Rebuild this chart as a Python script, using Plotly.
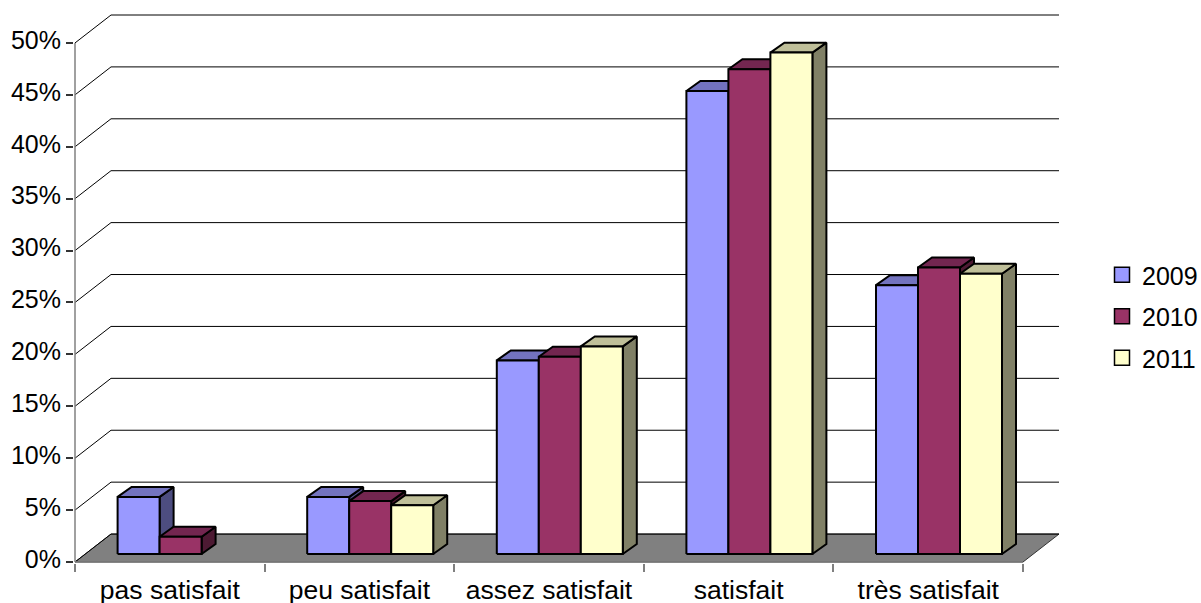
import plotly.graph_objects as go

categories = ["pas satisfait", "peu satisfait", "assez satisfait", "satisfait", "très satisfait"]
years = ["2009", "2010", "2011"]
values_2009 = [5.5, 5.5, 18.65, 44.6, 25.9]
values_2010 = [1.66, 5.1, 19.0, 46.7, 27.6]
values_2011 = [None, 4.7, 20.0, 48.3, 27.0]
y_ticks = [0, 5, 10, 15, 20, 25, 30, 35, 40, 45, 50]
y_labels = ["0%", "5%", "10%", "15%", "20%", "25%", "30%", "35%", "40%", "45%", "50%"]

series = [values_2009, values_2010, values_2011]
front = ["#9999FF", "#993366", "#FFFFCC"]
top = ["#7373BF", "#732650", "#BFBF99"]
side = ["#4D4D80", "#4D1A33", "#808066"]

# pixel scale of the plot: one category and one percent
PX_X = 189.6
PX_Y = 10.4
wall_dx, wall_dy = 36 / PX_X, 28 / PX_Y
bar_x0, bar_w = 42.6 / PX_X, 42 / PX_X
lift = 8 / PX_Y
bar_dx, bar_dy = 14 / PX_X, 10 / PX_Y
n = len(categories)

fig = go.Figure()


def poly(xs, ys, fill, line="#000000", width=2):
    fig.add_trace(go.Scatter(x=xs, y=ys, mode="lines", fill="toself", fillcolor=fill,
                             line=dict(color=line, width=width), showlegend=False,
                             hoverinfo="skip"))


# floor
poly([0, n, n + wall_dx, wall_dx, 0], [0, 0, wall_dy, wall_dy, 0], "#808080", "#333333", 1)

# walls: gridlines on back wall and side wall
gx, gy = [], []
for t in y_ticks:
    gx += [0, wall_dx, n + wall_dx, None]
    gy += [t, t + wall_dy, t + wall_dy, None]
fig.add_trace(go.Scatter(x=gx, y=gy, mode="lines", line=dict(color="#000000", width=1),
                         showlegend=False, hoverinfo="skip"))
fig.add_trace(go.Scatter(x=[0, 0], y=[0, y_ticks[-1]], mode="lines",
                         line=dict(color="#808080", width=1.5), showlegend=False, hoverinfo="skip"))
fig.add_trace(go.Scatter(x=[0, n], y=[0, 0], mode="lines",
                         line=dict(color="#808080", width=1.5), showlegend=False, hoverinfo="skip"))

# bars, painted left to right
for c in range(n):
    for s, vals in enumerate(series):
        v = vals[c]
        if v is None:
            continue
        x0 = c + bar_x0 + s * bar_w
        x1 = x0 + bar_w
        y0, y1 = lift, lift + v
        poly([x1, x1 + bar_dx, x1 + bar_dx, x1, x1],
             [y0, y0 + bar_dy, y1 + bar_dy, y1, y0], side[s])
        poly([x0, x0 + bar_dx, x1 + bar_dx, x1, x0],
             [y1, y1 + bar_dy, y1 + bar_dy, y1, y1], top[s])
        poly([x0, x1, x1, x0, x0], [y0, y0, y1, y1, y0], front[s])

# legend entries
for s, year in enumerate(years):
    fig.add_trace(go.Scatter(x=[None], y=[None], mode="markers", name=year, legendgroup=year,
                             marker=dict(symbol="square", size=15, color=front[s],
                                         line=dict(color="#000000", width=1.5))))

fig.update_layout(
    width=1201, height=603,
    margin=dict(l=74, r=141, t=14, b=40, autoexpand=False),
    paper_bgcolor="#FFFFFF", plot_bgcolor="#FFFFFF",
    font=dict(family="Liberation Sans, Arial, sans-serif", size=25, color="#000000"),
    showlegend=True,
    legend=dict(x=1102 / 1201, xref="container", xanchor="left", y=1 - 252 / 603, yref="container",
                yanchor="top", tracegroupgap=6, itemclick=False, itemdoubleclick=False,
                bgcolor="rgba(0,0,0,0)", font=dict(size=25)),
    xaxis=dict(range=[-1 / PX_X, n + wall_dx + 1 / PX_X], showgrid=False, zeroline=False,
               showline=False, tickmode="array", tickvals=[i + 0.5 for i in range(n)],
               ticktext=categories, ticks="", tickfont=dict(size=26.5), ticklabelstandoff=8,
               minor=dict(tickmode="array", tickvals=list(range(n + 1)), ticks="outside",
                          ticklen=8, tickcolor="#808080", tickwidth=1.5, showgrid=False)),
    yaxis=dict(range=[-1 / PX_Y, y_ticks[-1] + wall_dy + 1 / PX_Y], showgrid=False, zeroline=False,
               showline=False, tickmode="array", tickvals=y_ticks, ticktext=y_labels,
               ticks="outside", ticklen=7, tickcolor="#333333", tickwidth=1.5,
               ticklabelshift=-3),
)

fig.write_html("out.html", config=dict(displayModeBar=False),
               post_script="document.body.style.margin='0';")
